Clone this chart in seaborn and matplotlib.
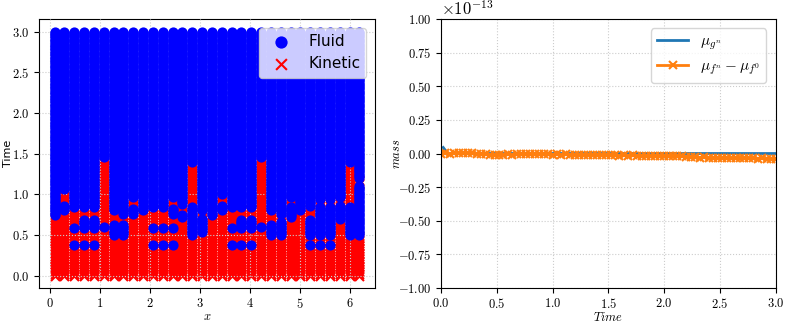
import numpy as np
import pandas as pd
import matplotlib
matplotlib.use("Agg")
import matplotlib.pyplot as plt
import seaborn as sns

# ---- left panel: fluid / kinetic state per cell over time ----
n_cells = 32
x_cells = (np.arange(n_cells) + 0.5) * 2 * np.pi / n_cells
time_grid = np.round(np.arange(0, 3.0001, 0.02), 2)

# time from which each cell stays fluid
switch_time = [0.73, 1.06, 0.83, 0.83, 0.83, 1.45, 0.80, 0.75,
               0.96, 0.80, 0.83, 0.83, 0.96, 0.87, 1.40, 0.80,
               0.73, 1.00, 0.83, 0.83, 0.83, 1.45, 0.80, 0.75,
               0.96, 0.80, 0.85, 0.93, 0.93, 0.96, 1.40, 1.20]

# short fluid episodes before the switch (start, end)
fluid_islands = [
    [], [(0.80, 0.87)], [(0.57, 0.59), (0.37, 0.39)], [(0.58, 0.68), (0.37, 0.39)],
    [(0.58, 0.68), (0.37, 0.39)], [(0.59, 0.61)], [(0.50, 0.62)], [(0.50, 0.62)],
    [(0.76, 0.82)], [], [(0.57, 0.59), (0.37, 0.39)], [(0.57, 0.59), (0.37, 0.39)],
    [(0.76, 0.82), (0.57, 0.59), (0.37, 0.39)], [(0.72, 0.74)], [(0.50, 0.84)], [(0.53, 0.70)],
    [], [(0.80, 0.87)], [(0.57, 0.59), (0.37, 0.39)], [(0.58, 0.68), (0.37, 0.39)],
    [(0.58, 0.68), (0.37, 0.39)], [(0.59, 0.61)], [(0.50, 0.62)], [(0.50, 0.66)],
    [(0.72, 0.84)], [], [(0.50, 0.68), (0.37, 0.39)], [(0.50, 0.84), (0.37, 0.39)],
    [(0.50, 0.84), (0.37, 0.39)], [(0.70, 0.86)], [(0.50, 0.84)], [(0.50, 1.10)],
]

# ---- right panel: mass conservation (units of 1e-13) ----
t_mass = np.linspace(0, 3, 76)
mu_f_diff = [0.000, 0.004, -0.002, 0.003, 0.001, 0.005, 0.002, 0.004, 0.000, -0.003, -0.006,
             -0.010, -0.012, -0.008, -0.010, -0.007, -0.009, -0.006, -0.004, -0.006, -0.003,
             -0.005, -0.007, -0.004, -0.006, -0.008,
             -0.006, -0.009, -0.007, -0.010, -0.008, -0.011, -0.009, -0.012, -0.010, -0.013,
             -0.011, -0.012, -0.014, -0.012, -0.015,
             -0.013, -0.016, -0.014, -0.017, -0.015, -0.018, -0.016, -0.019, -0.017, -0.020,
             -0.018, -0.021, -0.019, -0.022, -0.024,
             -0.026, -0.028, -0.030, -0.029, -0.031, -0.033, -0.032, -0.034, -0.033, -0.035,
             -0.034, -0.036, -0.035, -0.037, -0.036,
             -0.038, -0.037, -0.039, -0.038, -0.040]
t_g = [0.02, 0.06, 3.0]
mu_g = [0.045, 0.0, 0.0]

# build long table of states
rows = []
for i in range(n_cells):
    for t in time_grid:
        fluid = t >= switch_time[i] - 1e-9
        for a, b in fluid_islands[i]:
            if a - 1e-9 <= t <= b + 1e-9:
                fluid = True
        rows.append((x_cells[i], t, "Fluid" if fluid else "Kinetic"))
df = pd.DataFrame(rows, columns=["x", "t", "state"])
fl = df[df.state == "Fluid"]
ki = df[df.state == "Kinetic"]

plt.rcParams["font.family"] = "serif"
plt.rcParams["font.serif"] = ["cmr10"]
plt.rcParams["mathtext.fontset"] = "cm"
plt.rcParams["axes.formatter.use_mathtext"] = True
plt.rcParams["font.size"] = 9

fig = plt.figure(figsize=(7.89, 3.24), dpi=100)
ax1 = fig.add_axes([0.0498, 0.112, 0.4251, 0.8284])
ax2 = fig.add_axes([0.5589, 0.112, 0.4242, 0.8284])

sns.scatterplot(x=fl.x, y=fl.t, color="blue", marker="o", s=54, linewidth=0,
                label="Fluid", zorder=3, ax=ax1)
sns.scatterplot(x=ki.x, y=ki.t, color="red", marker="x", s=42, linewidth=1.5,
                label="Kinetic", zorder=2, ax=ax1)
ax1.set_xlabel("$x$")
ax1.xaxis.set_label_coords(0.5, -0.086)
ax1.xaxis.label.set_va("top")
ax1.set_ylabel("Time", fontfamily="DejaVu Sans", fontsize=8)
ax1.yaxis.set_label_coords(-0.077, 0.5)
ax1.set_yticks([0, 0.5, 1.0, 1.5, 2.0, 2.5, 3.0])
ax1.grid(True, linestyle=":", color="#cccccc", linewidth=0.8)
ax1.set_axisbelow(False)
ax1.legend(loc="upper right", prop={"family": "DejaVu Sans", "size": 11},
           markerscale=1.2, borderaxespad=0.55)

sns.lineplot(x=t_g, y=np.array(mu_g) * 1e-13, color="#1f77b4", linewidth=2,
             label=r"$\mu_{g^n}$", ax=ax2)
sns.lineplot(x=t_mass, y=np.array(mu_f_diff) * 1e-13, color="#ff7f0e", linewidth=2,
             marker="x", markersize=6, markeredgewidth=1.5, markeredgecolor="#ff7f0e",
             label=r"$\mu_{f^n}-\mu_{f^0}$", ax=ax2)
ax2.set_xlim(0, 3)
ax2.set_ylim(-1e-13, 1e-13)
ax2.set_yticks(np.arange(-1, 1.01, 0.25) * 1e-13)
ax2.set_xlabel("$Time$")
ax2.xaxis.set_label_coords(0.5, -0.086)
ax2.xaxis.label.set_va("top")
ax2.set_ylabel("$mass$")
ax2.yaxis.set_label_coords(-0.112, 0.5)
ax2.yaxis.get_offset_text().set_fontsize(12)
ax2.grid(True, linestyle=":", color="#cccccc", linewidth=0.8)
ax2.legend(loc="upper right", fontsize=11, borderaxespad=0.6)

fig.savefig("out.png", dpi=100)
